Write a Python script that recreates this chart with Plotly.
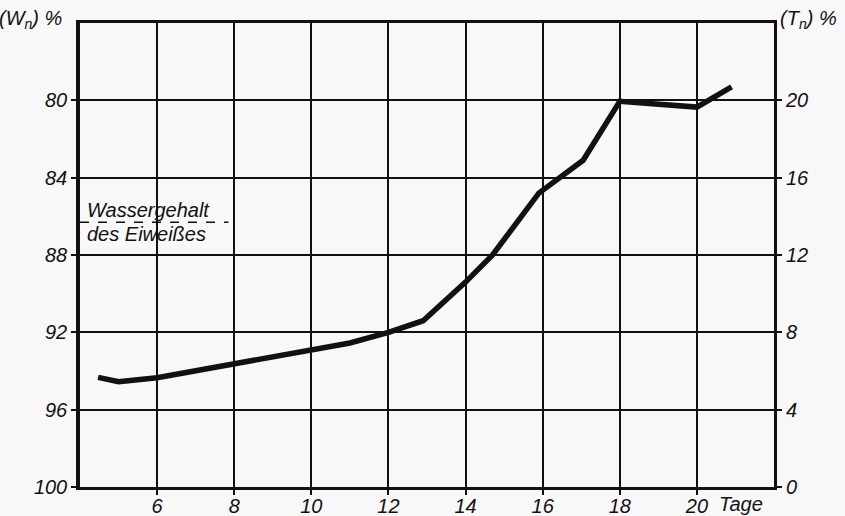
import plotly.graph_objects as go

# Days of incubation and water content of the embryo (W_n, %)
days = [4.47, 5.0, 6, 7, 8, 9, 10, 11, 12, 12.9, 14, 14.7, 15.9, 17.05, 18, 20, 20.9]
water_pct = [94.33, 94.55, 94.35, 94.0, 93.62, 93.28, 92.94, 92.55, 92.0, 91.4,
             89.4, 88.0, 84.8, 83.1, 80.05, 80.35, 79.3]

# Water content of protein (reference level, dashed)
protein_level = 86.3
protein_span = [4, 7.85]

x_ticks = [6, 8, 10, 12, 14, 16, 18, 20]
w_ticks = [80, 84, 88, 92, 96, 100]
t_ticks = [0, 4, 8, 12, 16, 20]

INK = "#111111"
BG = "#f8f8f8"
FONT = "Liberation Sans"

fig = go.Figure()

fig.add_trace(go.Scatter(
    x=protein_span, y=[protein_level, protein_level], mode="lines",
    line=dict(color=INK, width=1.5, dash="dash"), hoverinfo="skip", showlegend=False,
))

fig.add_trace(go.Scatter(
    x=days, y=water_pct, mode="lines",
    line=dict(color=INK, width=5.5), showlegend=False,
))

# dry-matter axis T_n = 100 - W_n on the right
fig.add_trace(go.Scatter(
    x=[None], y=[None], yaxis="y2", showlegend=False, hoverinfo="skip",
))

tickfont = dict(family=FONT, size=20, color=INK, style="italic")

fig.update_layout(
    width=845, height=516,
    margin=dict(l=80, r=71, t=23, b=29),
    paper_bgcolor=BG, plot_bgcolor=BG,
    showlegend=False,
    xaxis=dict(
        range=[4, 22], tickvals=x_ticks, ticktext=[str(v) for v in x_ticks],
        showgrid=True, gridcolor=INK, gridwidth=2,
        showline=True, linecolor=INK, linewidth=3, mirror=True,
        ticks="outside", ticklen=5, tickwidth=2, tickcolor=INK,
        tickfont=tickfont, zeroline=False, ticklabelstandoff=-6, automargin=False,
    ),
    yaxis=dict(
        range=[100, 76], tickvals=w_ticks, ticktext=[str(v) for v in w_ticks],
        showgrid=True, gridcolor=INK, gridwidth=2,
        showline=True, linecolor=INK, linewidth=3.5,
        ticks="outside", ticklen=5, tickwidth=2, tickcolor=INK,
        tickfont=tickfont, zeroline=False, automargin=False,
    ),
    yaxis2=dict(
        range=[0, 24], tickvals=t_ticks, ticktext=[str(v) for v in t_ticks],
        overlaying="y", side="right", showgrid=False,
        showline=True, linecolor=INK, linewidth=3,
        ticks="outside", ticklen=5, tickwidth=2, tickcolor=INK,
        tickfont=tickfont, zeroline=False, automargin=False,
    ),
)

label_font = dict(family=FONT, size=20, color=INK, style="italic")

fig.add_annotation(x=4.12, y=protein_level, xref="x", yref="y", text="Wassergehalt",
                   showarrow=False, xanchor="left", yanchor="bottom", yshift=-1, font=label_font)
fig.add_annotation(x=4.12, y=protein_level, xref="x", yref="y", text="des Eiweißes",
                   showarrow=False, xanchor="left", yanchor="top", yshift=1, font=label_font)

fig.add_annotation(x=0.0, y=1.0, xref="paper", yref="paper", text="(W<sub>n</sub>) %",
                   showarrow=False, xanchor="right", yanchor="middle", xshift=-16, yshift=4,
                   font=label_font)
fig.add_annotation(x=1.0, y=1.0, xref="paper", yref="paper", text="(T<sub>n</sub>) %",
                   showarrow=False, xanchor="left", yanchor="middle", xshift=4, yshift=4,
                   font=label_font)
fig.add_annotation(x=21.15, y=0, xref="x", yref="paper", text="Tage",
                   showarrow=False, xanchor="center", yanchor="top", yshift=-4,
                   font=label_font)

fig.write_html("out.html")
